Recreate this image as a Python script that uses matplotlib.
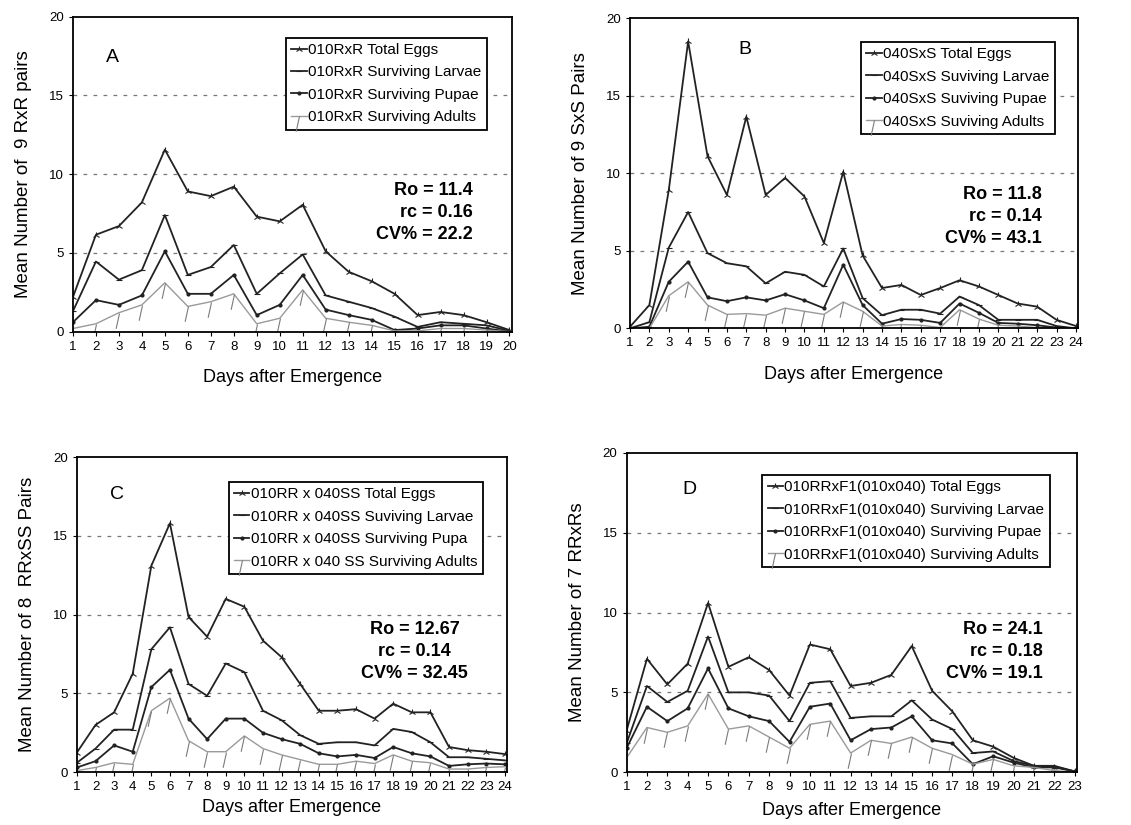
import matplotlib
matplotlib.use("Agg")
import matplotlib.pyplot as plt
from matplotlib.path import Path

plt.rcParams['font.family'] = ['Liberation Sans', 'DejaVu Sans']

# Panel A: 010RxR (days 1-20)
days_a = list(range(1, 21))
eggs_a = [2.2, 6.15, 6.7, 8.2, 11.55, 8.9, 8.6, 9.2, 7.3, 7.0, 8.05, 5.1, 3.8, 3.2, 2.4, 1.05, 1.25, 1.05, 0.6, 0.1]
larvae_a = [1.3, 4.45, 3.3, 3.9, 7.4, 3.6, 4.1, 5.5, 2.4, 3.7, 4.9, 2.3, 1.9, 1.5, 0.95, 0.3, 0.6, 0.5, 0.4, 0.05]
pupae_a = [0.6, 2.0, 1.7, 2.3, 5.1, 2.4, 2.4, 3.6, 1.05, 1.7, 3.6, 1.4, 1.05, 0.75, 0.1, 0.2, 0.4, 0.4, 0.2, 0.0]
adults_a = [0.2, 0.5, 1.2, 1.7, 3.1, 1.6, 1.9, 2.4, 0.5, 0.85, 2.65, 0.85, 0.6, 0.4, 0.05, 0.05, 0.2, 0.2, 0.1, 0.0]

# Panel B: 040SxS (days 1-24)
days_b = list(range(1, 25))
eggs_b = [0.1, 1.5, 8.9, 18.5, 11.1, 8.6, 13.65, 8.6, 9.7, 8.5, 5.5, 10.1, 4.7, 2.6, 2.8, 2.15, 2.6, 3.1, 2.7, 2.15, 1.6, 1.4, 0.55, 0.15]
larvae_b = [0.0, 0.4, 5.2, 7.5, 4.85, 4.2, 4.0, 2.9, 3.65, 3.45, 2.7, 5.15, 1.95, 0.85, 1.2, 1.2, 0.95, 2.05, 1.5, 0.55, 0.55, 0.55, 0.15, 0.0]
pupae_b = [0.0, 0.1, 3.0, 4.3, 2.0, 1.75, 2.0, 1.8, 2.2, 1.8, 1.3, 4.1, 1.5, 0.3, 0.6, 0.55, 0.35, 1.6, 1.0, 0.35, 0.3, 0.2, 0.05, 0.0]
adults_b = [0.0, 0.0, 2.1, 3.0, 1.5, 0.9, 0.95, 0.85, 1.3, 1.1, 0.9, 1.7, 1.1, 0.15, 0.25, 0.2, 0.05, 1.2, 0.6, 0.2, 0.15, 0.05, 0.0, 0.0]

# Panel C: 010RR x 040SS (days 1-24)
days_c = list(range(1, 25))
eggs_c = [1.25, 3.0, 3.8, 6.25, 13.1, 15.8, 9.85, 8.6, 11.0, 10.5, 8.35, 7.3, 5.6, 3.9, 3.9, 4.0, 3.4, 4.35, 3.8, 3.8, 1.6, 1.4, 1.3, 1.15]
larvae_c = [0.6, 1.5, 2.7, 2.7, 7.8, 9.2, 5.6, 4.85, 6.9, 6.35, 3.9, 3.3, 2.35, 1.8, 1.9, 1.9, 1.7, 2.75, 2.55, 1.9, 0.95, 0.95, 0.85, 0.75]
pupae_c = [0.3, 0.7, 1.7, 1.3, 5.4, 6.5, 3.4, 2.1, 3.4, 3.4, 2.5, 2.1, 1.8, 1.2, 1.0, 1.1, 0.9, 1.6, 1.2, 1.0, 0.4, 0.5, 0.55, 0.5]
adults_c = [0.1, 0.3, 0.6, 0.5, 3.9, 4.7, 2.0, 1.3, 1.3, 2.3, 1.5, 1.1, 0.8, 0.5, 0.5, 0.7, 0.55, 1.1, 0.7, 0.6, 0.2, 0.2, 0.3, 0.35]

# Panel D: 010RRxF1(010x040) (days 1-23)
days_d = list(range(1, 24))
eggs_d = [2.6, 7.1, 5.5, 6.8, 10.6, 6.6, 7.2, 6.4, 4.8, 8.0, 7.7, 5.4, 5.6, 6.1, 7.9, 5.1, 3.8, 2.0, 1.6, 0.9, 0.4, 0.35, 0.05]
larvae_d = [1.8, 5.4, 4.4, 5.1, 8.5, 5.0, 5.0, 4.8, 3.2, 5.6, 5.7, 3.4, 3.5, 3.5, 4.5, 3.3, 2.7, 1.2, 1.3, 0.7, 0.4, 0.4, 0.05]
pupae_d = [1.5, 4.1, 3.2, 4.0, 6.5, 4.0, 3.5, 3.2, 1.9, 4.1, 4.3, 2.0, 2.7, 2.8, 3.5, 2.0, 1.8, 0.5, 1.0, 0.6, 0.3, 0.3, 0.05]
adults_d = [0.9, 2.8, 2.5, 2.9, 4.9, 2.7, 2.9, 2.2, 1.5, 3.0, 3.2, 1.2, 2.0, 1.8, 2.2, 1.5, 1.1, 0.5, 0.8, 0.4, 0.3, 0.1, 0.0]

labels_a = ['010RxR Total Eggs', '010RxR Surviving Larvae', '010RxR Surviving Pupae', '010RxR Surviving Adults']
labels_b = ['040SxS Total Eggs', '040SxS Suviving Larvae', '040SxS Suviving Pupae', '040SxS Suviving Adults']
labels_c = ['010RR x 040SS Total Eggs', '010RR x 040SS Suviving Larvae', '010RR x 040SS Surviving Pupa', '010RR x 040 SS Surviving Adults']
labels_d = ['010RRxF1(010x040) Total Eggs', '010RRxF1(010x040) Surviving Larvae',
            '010RRxF1(010x040) Surviving Pupae', '010RRxF1(010x040) Surviving Adults']

stats_a = 'Ro = 11.4\nrc = 0.16\nCV% = 22.2'
stats_b = 'Ro = 11.8\nrc = 0.14\nCV% = 43.1'
stats_c = 'Ro = 12.67\nrc = 0.14\nCV% = 32.45'
stats_d = 'Ro = 24.1\nrc = 0.18\nCV% = 19.1'

# штрих, свисающий вниз от точки (маркер для взрослых особей)
hang_tick = Path([(0, 0), (-0.22, -1)], [Path.MOVETO, Path.LINETO])


def draw_panel(ax, days, series, labels, letter, ylabel, stats, layout):
    """Рисует одну панель с четырьмя кривыми."""
    eggs, larvae, pupae, adults = series
    ax.plot(days, eggs, color='#222222', lw=1.3, marker='2', ms=5, mew=0.8, label=labels[0])
    ax.plot(days, larvae, color='#222222', lw=1.3, marker='_', ms=5, mew=0.8, label=labels[1])
    ax.plot(days, pupae, color='#222222', lw=1.3, marker='.', ms=4, label=labels[2])
    ax.plot(days, adults, color='#9a9a9a', lw=1.0, marker=hang_tick, ms=22, mew=0.8,
            mec='#7a7a7a', label=labels[3])

    ax.set_xlim(days[0], days[-1] + 0.1)
    ax.set_ylim(0, 20)
    ax.set_xticks(days)
    ax.set_yticks([0, 5, 10, 15, 20])
    ax.tick_params(labelsize=9.5, length=3, direction='out')
    for y in (5, 10, 15):
        ax.axhline(y, color='#777777', lw=0.9, ls=(0, (3, 5)), zorder=0)
    for sp in ax.spines.values():
        sp.set_linewidth(1.3)

    ax.set_xlabel('Days after Emergence', fontsize=13, labelpad=layout['xpad'])
    ax.set_ylabel(ylabel, fontsize=13.5, labelpad=12)

    ax.text(layout['letter'][0], layout['letter'][1], letter, transform=ax.transAxes,
            fontsize=14, ha='center', va='center')
    ax.text(layout['stats'][0], layout['stats'][1], stats, transform=ax.transAxes,
            fontsize=13, fontweight='bold', ha=layout['ha'], va='top',
            multialignment=layout['ha'], linespacing=1.4)

    leg = ax.legend(loc='upper right', bbox_to_anchor=layout['legend'], fontsize=11,
                    handlelength=1.0, handletextpad=0.1, borderpad=0.35, labelspacing=0.55,
                    fancybox=False, framealpha=1, edgecolor='black', borderaxespad=0)
    leg.get_frame().set_linewidth(1.3)


fig = plt.figure(figsize=(11.31, 8.25), dpi=100)

ax_a = fig.add_axes([0.0645, 0.598, 0.388, 0.382])
ax_b = fig.add_axes([0.557, 0.602, 0.396, 0.376])
ax_c = fig.add_axes([0.068, 0.064, 0.380, 0.382])
ax_d = fig.add_axes([0.554, 0.064, 0.398, 0.387])

draw_panel(ax_a, days_a, (eggs_a, larvae_a, pupae_a, adults_a), labels_a, 'A',
           'Mean Number of  9 RxR pairs', stats_a,
           {'letter': (0.09, 0.87), 'stats': (0.91, 0.475), 'ha': 'right',
            'legend': (0.943, 0.933), 'xpad': 12})
draw_panel(ax_b, days_b, (eggs_b, larvae_b, pupae_b, adults_b), labels_b, 'B',
           'Mean Number of 9 SxS Pairs', stats_b,
           {'letter': (0.257, 0.90), 'stats': (0.92, 0.46), 'ha': 'right',
            'legend': (0.949, 0.923), 'xpad': 12})
draw_panel(ax_c, days_c, (eggs_c, larvae_c, pupae_c, adults_c), labels_c, 'C',
           'Mean Number of 8  RRxSS Pairs', stats_c,
           {'letter': (0.093, 0.88), 'stats': (0.786, 0.48), 'ha': 'center',
            'legend': (0.944, 0.921), 'xpad': 4})
draw_panel(ax_d, days_d, (eggs_d, larvae_d, pupae_d, adults_d), labels_d, 'D',
           'Mean Number of 7 RRxRs', stats_d,
           {'letter': (0.14, 0.885), 'stats': (0.924, 0.475), 'ha': 'right',
            'legend': (0.94, 0.931), 'xpad': 6})

fig.savefig('out.png', dpi=100)
